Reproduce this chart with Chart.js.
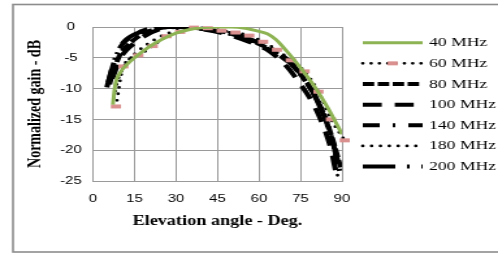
<!DOCTYPE html>
<html>
<head>
<meta charset="utf-8">
<script src="https://cdn.jsdelivr.net/npm/chart.js@4.4.1/dist/chart.umd.min.js"></script>
<style>
  html, body { margin: 0; padding: 0; background: #fff; }
  /* the original figure is stretched sideways, so the canvas is drawn narrow and widened */
  #gain { display: block; width: 498px; height: 253px; }
</style>
</head>
<body>
<canvas id="gain" width="383" height="253" style="width:498px;height:253px"></canvas>
<script>
// elevation angles (deg) and normalized gains (dB)
const labels = ['40 MHz', '60 MHz', '80 MHz', '100 MHz', '140 MHz', '180 MHz', '200 MHz'];

const ang40 = [7.2, 8, 10, 12.5, 15, 20, 25, 30, 35, 40, 45, 50, 55, 60, 63, 66, 70, 75, 80, 85, 90];
const gain40 = [-12.6, -9.5, -7.3, -6.0, -5.0, -3.3, -2.0, -1.0, -0.4, -0.1, 0, 0, -0.2, -0.7, -1.1, -2.0, -3.9, -6.6, -9.6, -13.2, -17.4];

const ang60 = [8.3, 11, 16.4, 21.6, 26.6, 31.5, 36.5, 41.5, 46.5, 51.5, 56.5, 61.5, 66.5, 71.5, 76.5, 81.5, 86, 91];
const gain60 = [-12.9, -6.4, -4.6, -3.1, -1.5, -0.8, -0.1, -0.2, -0.6, -0.9, -1.4, -2.4, -3.7, -5.4, -7.2, -10.5, -15.0, -18.4];

const ang80 = [6, 7, 8.5, 10, 12, 15, 19, 24, 30, 40, 50, 57, 63, 68, 72, 76, 80, 84, 87, 89.5];
const gain80 = [-9.3, -7.6, -5.8, -4.3, -3.2, -2.0, -0.9, -0.2, 0, -0.3, -1.1, -2.2, -3.4, -4.8, -6.2, -8.3, -11.0, -14.8, -18.8, -22.8];

const ang100 = [7, 8.5, 10, 12, 15, 19, 24, 30, 40, 50, 58, 64, 70, 75, 79, 83, 86, 88];
const gain100 = [-8.4, -6.6, -5.0, -3.8, -2.6, -1.4, -0.4, 0, -0.4, -1.4, -2.7, -4.0, -6.4, -9.3, -12.0, -15.8, -19.8, -24.0];

const ang140 = [5.5, 7, 9, 11, 14, 18, 22, 28, 35, 45, 55, 62, 68, 73, 78, 82, 85, 87.5, 89.5];
const gain140 = [-9.0, -6.5, -4.0, -2.6, -1.5, -0.6, -0.1, 0, -0.1, -0.7, -1.8, -3.0, -4.6, -6.6, -9.5, -12.8, -16.2, -20.2, -23.5];

const ang180 = [7.5, 9, 11, 13, 16, 20, 25, 30, 36, 45, 55, 61, 66, 71, 76, 80, 84, 86.5, 88.5];
const gain180 = [-11.5, -8.6, -6.6, -5.3, -4.0, -2.7, -1.4, -0.6, -0.1, -0.5, -1.6, -3.0, -4.0, -5.6, -8.0, -10.6, -14.4, -18.5, -24.4];

const ang200 = [5, 6.5, 8, 9.5, 11, 13, 16, 20, 25, 32, 40, 50, 58, 64, 70, 75, 79, 83, 86, 88, 89.7];
const gain200 = [-9.8, -7.4, -5.2, -3.6, -2.5, -1.7, -1.0, -0.3, 0, 0, -0.3, -1.0, -2.2, -3.4, -5.2, -7.6, -10.2, -14.0, -17.6, -21.0, -24.6];

const xTicks = [0, 15, 30, 45, 60, 75, 90];
const yTicks = [0, -5, -10, -15, -20, -25];

function pts(xs, ys) {
  return xs.map((x, i) => ({ x: x, y: ys[i] }));
}

function line(label, data, color, width, dash, cap) {
  return {
    label: label,
    data: data,
    borderColor: color,
    borderWidth: width,
    borderDash: dash,
    borderCapStyle: cap || 'butt',
    pointRadius: 0,
    fill: false,
    cubicInterpolationMode: 'monotone'
  };
}

const datasets = [
  line(labels[0], pts(ang40, gain40), '#8db353', 3, []),
  Object.assign(line(labels[1], pts(ang60, gain60), '#000', 2.8, [0, 6.4], 'round'), {
    pointStyle: 'line', pointRadius: 3.9, pointBorderWidth: 4,
    pointBorderColor: '#d9908e', pointBackgroundColor: '#d9908e', clip: false
  }),
  line(labels[2], pts(ang80, gain80), '#000', 4, [8.8, 2.7]),
  line(labels[3], pts(ang100, gain100), '#000', 4, [14.6, 10]),
  line(labels[4], pts(ang140, gain140), '#000', 4, [13, 10, 2, 10]),
  line(labels[5], pts(ang180, gain180), '#000', 2.8, [0, 6.8], 'round'),
  line(labels[6], pts(ang200, gain200), '#000', 4, [25, 9, 2, 9])
];

// legend and outer frame, drawn from the dataset styles
const sideLegend = {
  id: 'sideLegend',
  afterDraw(chart) {
    const ctx = chart.ctx;
    ctx.save();
    ctx.strokeStyle = '#8c8c8c';
    ctx.lineWidth = 1.6;
    ctx.setLineDash([]);
    ctx.strokeRect(10, 4.5, chart.width, 247.5);

    chart.data.datasets.forEach((ds, i) => {
      const y = 42.7 + i * 20.65;
      ctx.beginPath();
      ctx.setLineDash(ds.borderDash);
      ctx.lineCap = ds.borderCapStyle;
      ctx.strokeStyle = ds.borderColor;
      ctx.lineWidth = ds.borderWidth;
      ctx.moveTo(279, y);
      ctx.lineTo(325, y);
      ctx.stroke();
      if (ds.pointRadius) {
        ctx.beginPath();
        ctx.setLineDash([]);
        ctx.lineCap = 'butt';
        ctx.strokeStyle = ds.pointBorderColor;
        ctx.lineWidth = ds.pointBorderWidth;
        ctx.moveTo(302 - ds.pointRadius, y);
        ctx.lineTo(302 + ds.pointRadius, y);
        ctx.stroke();
      }
      ctx.fillStyle = '#000';
      ctx.font = '13.5px "Liberation Serif"';
      ctx.textBaseline = 'middle';
      ctx.fillText(ds.label, 330, y);
    });
    ctx.restore();
  }
};

Chart.defaults.font.family = '"Liberation Sans", Arial, sans-serif';
Chart.defaults.color = '#000';

new Chart(document.getElementById('gain'), {
  type: 'line',
  data: { datasets: datasets },
  options: {
    responsive: false,
    devicePixelRatio: 1,
    animation: false,
    layout: { padding: { left: 20, right: 120, top: 27, bottom: 25 } },
    plugins: { legend: { display: false }, tooltip: { enabled: false } },
    scales: {
      x: {
        type: 'linear',
        min: 0,
        max: 90,
        afterFit: s => { s.height = 47; },
        afterBuildTicks: s => { s.ticks = xTicks.map(v => ({ value: v })); },
        ticks: { padding: 11, font: { size: 11.5 } },
        grid: { color: '#9a9a9a', drawTicks: false },
        border: { color: '#9a9a9a' },
        title: {
          display: true,
          text: 'Elevation angle - Deg.',
          padding: 0,
          font: { family: '"Liberation Serif"', weight: 'bold', size: 14, lineHeight: 1 }
        }
      },
      y: {
        min: -25,
        max: 0,
        afterFit: s => { s.width = 51.5; },
        afterBuildTicks: s => { s.ticks = yTicks.map(v => ({ value: v })); },
        ticks: { padding: 8.7, crossAlign: 'center', font: { size: 11.5 } },
        grid: { color: '#9a9a9a', drawTicks: false },
        border: { color: '#9a9a9a' },
        title: {
          display: true,
          text: 'Normalized gain - dB',
          padding: 0,
          font: { family: '"Liberation Serif"', weight: 'bold', size: 14, lineHeight: 1 }
        }
      }
    }
  },
  plugins: [sideLegend]
});
</script>
</body>
</html>
